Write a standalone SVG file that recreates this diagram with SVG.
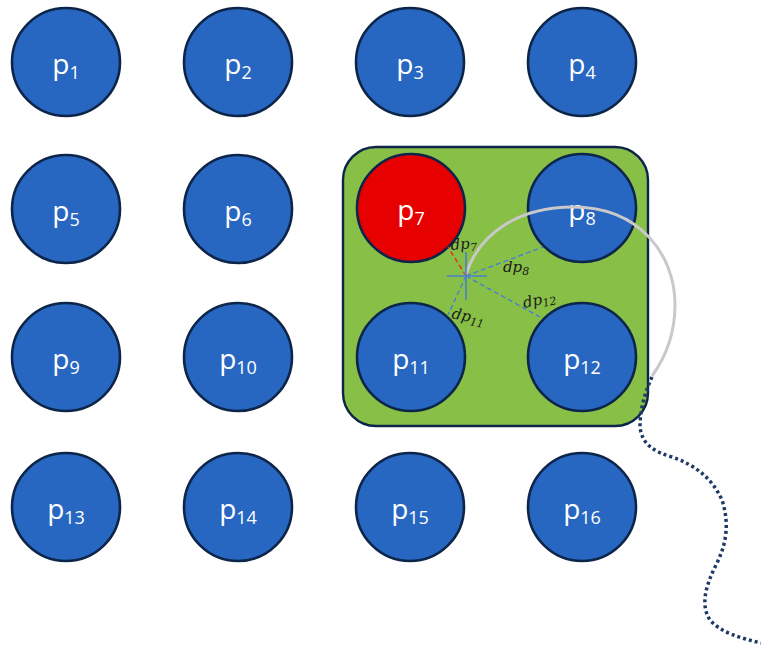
<svg xmlns="http://www.w3.org/2000/svg" width="761" height="653" viewBox="0 0 761 653">
<style>
.n{fill:#2767c2;stroke:#0c2549;stroke-width:2.6}
.r{fill:#e60000;stroke:#0c2549;stroke-width:2.6}
.t{font-family:"Open Sans","Noto Sans",sans-serif;font-size:28px;fill:#ffffff;text-anchor:middle}
.s{font-size:18px}
.d{font-family:"DejaVu Serif","Liberation Serif",serif;font-style:italic;font-size:15px;fill:#1a1a1a}
.ds{font-size:11px}
.dl{fill:none;stroke:#4a7fcf;stroke-width:1.4;stroke-dasharray:5 3}
</style>
<rect width="761" height="653" fill="#ffffff"/>
<g id="region"><rect x="343" y="147" width="305" height="279" rx="33" fill="#88bf47" stroke="#0c2549" stroke-width="2.4"/></g>
<g id="p1"><circle class="n" cx="66" cy="62" r="54"/><text class="t" x="66" y="74">p<tspan class="s" dy="5">1</tspan></text></g>
<g id="p2"><circle class="n" cx="238" cy="62" r="54"/><text class="t" x="238" y="74">p<tspan class="s" dy="5">2</tspan></text></g>
<g id="p3"><circle class="n" cx="410" cy="62" r="54"/><text class="t" x="410" y="74">p<tspan class="s" dy="5">3</tspan></text></g>
<g id="p4"><circle class="n" cx="582" cy="62" r="54"/><text class="t" x="582" y="74">p<tspan class="s" dy="5">4</tspan></text></g>
<g id="p5"><circle class="n" cx="66" cy="209" r="54"/><text class="t" x="66" y="221">p<tspan class="s" dy="5">5</tspan></text></g>
<g id="p6"><circle class="n" cx="238" cy="209" r="54"/><text class="t" x="238" y="221">p<tspan class="s" dy="5">6</tspan></text></g>
<g id="p7"><circle class="r" cx="411" cy="208" r="54"/><text class="t" x="411" y="220">p<tspan class="s" dy="5">7</tspan></text></g>
<g id="p8"><circle class="n" cx="582" cy="208" r="54"/><text class="t" x="582" y="220">p<tspan class="s" dy="5">8</tspan></text></g>
<g id="p9"><circle class="n" cx="66" cy="357" r="54"/><text class="t" x="66" y="369">p<tspan class="s" dy="5">9</tspan></text></g>
<g id="p10"><circle class="n" cx="238" cy="357" r="54"/><text class="t" x="238" y="369">p<tspan class="s" dy="5">10</tspan></text></g>
<g id="p11"><circle class="n" cx="411" cy="357" r="54"/><text class="t" x="411" y="369">p<tspan class="s" dy="5">11</tspan></text></g>
<g id="p12"><circle class="n" cx="582" cy="357" r="54"/><text class="t" x="582" y="369">p<tspan class="s" dy="5">12</tspan></text></g>
<g id="p13"><circle class="n" cx="66" cy="507" r="54"/><text class="t" x="66" y="519">p<tspan class="s" dy="5">13</tspan></text></g>
<g id="p14"><circle class="n" cx="238" cy="507" r="54"/><text class="t" x="238" y="519">p<tspan class="s" dy="5">14</tspan></text></g>
<g id="p15"><circle class="n" cx="410" cy="507" r="54"/><text class="t" x="410" y="519">p<tspan class="s" dy="5">15</tspan></text></g>
<g id="p16"><circle class="n" cx="582" cy="507" r="54"/><text class="t" x="582" y="519">p<tspan class="s" dy="5">16</tspan></text></g>
<g id="connectors">
<line x1="466" y1="276" x2="448" y2="247" fill="none" stroke="#e03020" stroke-width="1.4" stroke-dasharray="5 3"/>
<line class="dl" x1="466" y1="276" x2="543" y2="247"/>
<line class="dl" x1="466" y1="276" x2="540" y2="317"/>
<line class="dl" x1="466" y1="276" x2="448" y2="315"/>
<path d="M466,274 C480,232 520,207 573,207 C640,207 675,255 675,305 C675,335 665,358 652,376" fill="none" stroke="#c9c9c9" stroke-width="3"/>
<path d="M652,377 C645,392 640,410 640,427 C642,445 655,452 672,457 C695,465 712,478 722,500 C730,525 726,545 716,565 C706,585 700,605 710,620 C720,632 740,638 761,643" fill="none" stroke="#1f3864" stroke-width="3.5" stroke-dasharray="3 3"/>
<line x1="447" y1="276" x2="487" y2="276" stroke="#4a7fcf" stroke-width="1.6"/>
<line x1="466" y1="252" x2="466" y2="300" stroke="#4a7fcf" stroke-width="1.6"/>
</g>
<g id="labels">
<text class="d" x="451" y="250" transform="rotate(-5 451 250)">dp<tspan class="ds" dy="3">7</tspan></text>
<text class="d" x="503" y="272">dp<tspan class="ds" dy="3">8</tspan></text>
<text class="d" x="524" y="308" transform="rotate(-12 524 308)">dp<tspan class="ds" dy="3">12</tspan></text>
<text class="d" x="451" y="318" transform="rotate(12 451 318)">dp<tspan class="ds" dy="3">11</tspan></text>
</g>
</svg>
